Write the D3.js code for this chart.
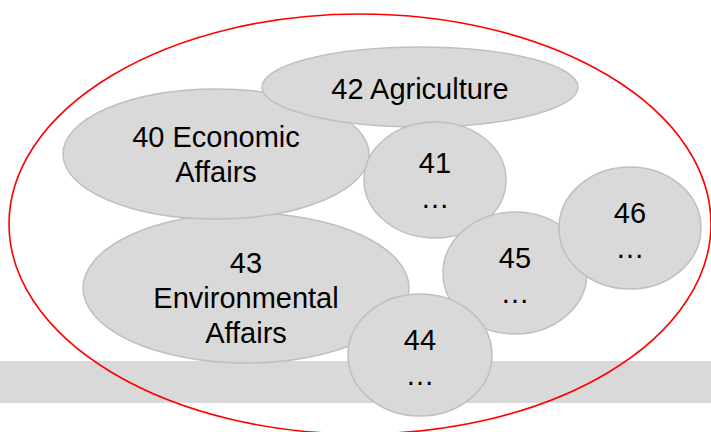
<!DOCTYPE html>
<html>
<head>
<meta charset="utf-8">
<script src="https://cdn.jsdelivr.net/npm/d3@7"></script>
<style>
  body { margin: 0; background: #fff; }
  svg { display: block; }
  .lbl { font-family: "Liberation Sans", Arial, sans-serif; font-size: 29px; fill: #000; }
</style>
</head>
<body>
<script>
// chapter bubbles (drawing order = array order)
var codes = ["43", "40", "42", "41", "45", "44", "46"];
var labels = [
  ["43", "Environmental", "Affairs"],
  ["40 Economic", "Affairs"],
  ["42 Agriculture"],
  ["41", "…"],
  ["45", "…"],
  ["44", "…"],
  ["46", "…"]
];
// bubble centres and radii in slide units
var centerX = [246, 216, 420, 435, 515, 420, 630];
var centerY = [288, 154, 87, 180, 273, 355, 228];
var radiusX = [163, 153, 158, 71, 72, 72, 71];
var radiusY = [75, 65, 40, 58, 61, 61, 61];
// label block centre relative to bubble centre
var labelShift = [9, -1, 1, -1, 1, 1, 1];

// outer red boundary and the grey band
var outer = { cx: 360, cy: 224, rx: 351, ry: 210 };
var band = { y0: 361, y1: 403 };

var svgWidth = 711;
var svgHeight = 432;

var svg = d3.select("body")
  .append("svg")
  .attr("width", svgWidth)
  .attr("height", svgHeight);

// identity scales from slide units to pixels
var x = d3.scaleLinear().domain([0, 711]).range([0, svgWidth]);
var y = d3.scaleLinear().domain([0, 432]).range([0, svgHeight]);

var bubbles = codes.map(function(c, i) {
  return { code: c, lines: labels[i], cx: centerX[i], cy: centerY[i], rx: radiusX[i], ry: radiusY[i], dy: labelShift[i] };
});

// grey band behind everything
svg.append("rect")
  .attr("x", 0)
  .attr("y", y(band.y0))
  .attr("width", svgWidth)
  .attr("height", y(band.y1) - y(band.y0))
  .attr("fill", "#d9d9d9");

// red outline
svg.append("ellipse")
  .attr("cx", x(outer.cx))
  .attr("cy", y(outer.cy))
  .attr("rx", x(outer.rx) - x(0))
  .attr("ry", y(outer.ry) - y(0))
  .attr("fill", "none")
  .attr("stroke", "#ff0000")
  .attr("stroke-width", 1.6);

var g = svg.selectAll("g.bubble")
  .data(bubbles)
  .enter()
  .append("g")
  .attr("class", "bubble");

g.append("ellipse")
  .attr("cx", function(d) { return x(d.cx); })
  .attr("cy", function(d) { return y(d.cy); })
  .attr("rx", function(d) { return x(d.rx) - x(0); })
  .attr("ry", function(d) { return y(d.ry) - y(0); })
  .attr("fill", "#d9d9d9")
  .attr("stroke", "#bfbfbf")
  .attr("stroke-width", 1.5);

var lineH = 35;
g.append("text")
  .attr("class", "lbl")
  .attr("text-anchor", "middle")
  .each(function(d) {
    var t = d3.select(this);
    var n = d.lines.length;
    d.lines.forEach(function(s, k) {
      t.append("tspan")
        .attr("x", x(d.cx))
        .attr("y", y(d.cy + d.dy) + (k - (n - 1) / 2) * lineH + 11)
        .text(s);
    });
  });
</script>
</body>
</html>
